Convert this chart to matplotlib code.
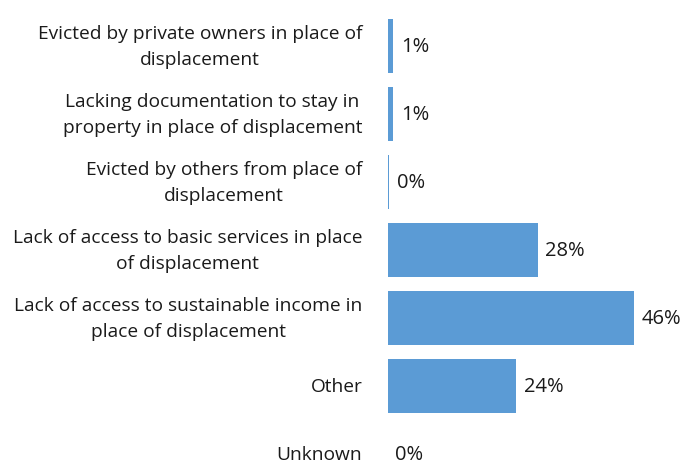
import matplotlib.pyplot as plt

categories = [
    "Evicted by private owners in place of\ndisplacement",
    "Lacking documentation to stay in\nproperty in place of displacement",
    "Evicted by others from place of\ndisplacement",
    "Lack of access to basic services in place\nof displacement",
    "Lack of access to sustainable income in\nplace of displacement",
    "Other",
    "Unknown",
]
values = [1.0, 1.0, 0.2, 28.0, 46.0, 24.0, 0.0]
labels = ["1%", "1%", "0%", "28%", "46%", "24%", "0%"]

plt.rcParams["font.family"] = ["Open Sans", "DejaVu Sans"]

fig = plt.figure(figsize=(6.98, 4.64), dpi=100)
ax = fig.add_axes([388 / 698, 0, 310 / 698, 1])

ypos = list(range(len(categories)))
ax.barh(ypos, values, height=0.8, color="#5B9BD5")

for y, v, lab in zip(ypos, values, labels):
    ax.text(v + 1.4, y, lab, va="center", ha="left", fontsize=14.5, color="#1a1a1a")

ax.set_xlim(0, 57.9)
ax.set_ylim(6.132, -0.691)
ax.set_yticks(ypos)
ax.set_yticklabels(categories, fontsize=13.8, color="#1a1a1a")
for t in ax.get_yticklabels():
    t.set_multialignment("center")
    t.set_linespacing(1.6)
    t.set_verticalalignment("center")
ax.tick_params(axis="y", length=0, pad=18.5)
ax.set_xticks([])
for s in ax.spines.values():
    s.set_visible(False)

fig.savefig("out.png", dpi=100)
